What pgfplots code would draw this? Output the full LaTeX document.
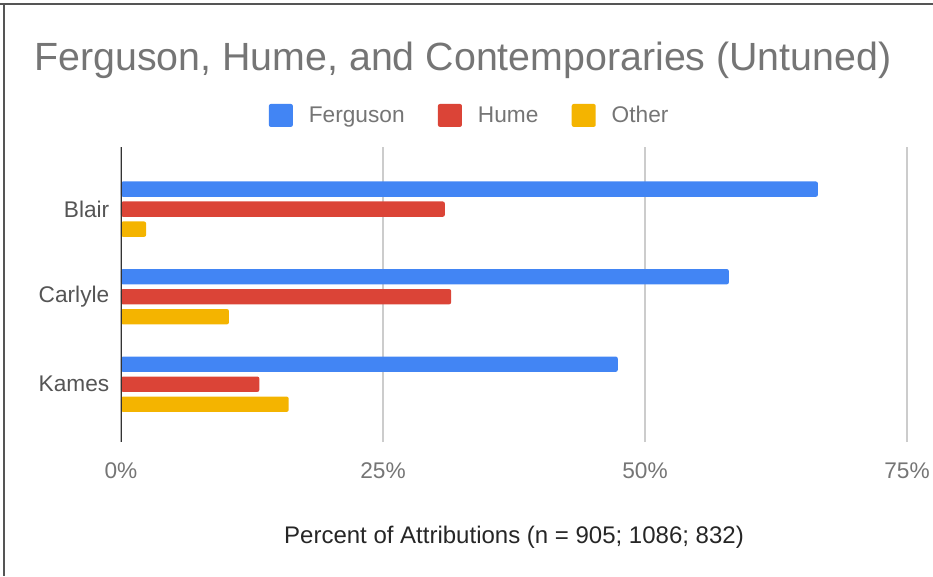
\documentclass[border=0pt]{standalone}
\usepackage{fontspec}
\setmainfont{Liberation Sans}
\usepackage{pgfplots}
\pgfplotsset{compat=1.18}
\definecolor{cBlue}{HTML}{4285F4}
\definecolor{cRed}{HTML}{DB4437}
\definecolor{cYellow}{HTML}{F4B400}
\definecolor{txtGray}{HTML}{757575}
\definecolor{catGray}{HTML}{555555}
\definecolor{gridGray}{HTML}{CCCCCC}
\begin{document}
\begin{tikzpicture}
\useasboundingbox (0,0) rectangle (699.75pt,432pt);
% frame edges of the original screenshot
\draw[line width=1.5pt,color=catGray] (0,429pt) -- (699.75pt,429pt);
\draw[line width=1.5pt,color=catGray] (3pt,429pt) -- (3pt,0);
\node[text=txtGray,font=\fontsize{29.5}{34}\selectfont] at (347.25pt,386.5pt) {Ferguson, Hume, and Contemporaries (Untuned)};
\node[text=black!85,font=\fontsize{18}{21}\selectfont] at (385.5pt,29pt) {Percent of Attributions (n = 905; 1086; 832)};
\begin{axis}[
    at={(90.75pt,100.5pt)}, anchor=south west,
    scale only axis, width=589.5pt, height=221.25pt,
    xbar, bar width=11.5pt,
    xmin=0, xmax=75, ymin=-0.66, ymax=2.71,
    xtick={0,25,50,75},
    xticklabel={\pgfmathprintnumber{\tick}\%},
    /pgf/number format/assume math mode=true,
    ytick={0,1,2}, yticklabels={Kames,Carlyle,Blair},
    axis line style={draw=none}, tick style={draw=none},
    xmajorgrids, grid style={gridGray,line width=1.2pt},
    xticklabel style={text=txtGray,font=\fontsize{17}{20}\selectfont,yshift=-12pt},
    yticklabel style={text=catGray,font=\fontsize{17}{20}\selectfont,xshift=-1pt},
    legend style={draw=none, at={(0.444,1.107)}, anchor=center, legend columns=-1,
        font=\fontsize{17}{20}\selectfont, text=txtGray,
        /tikz/every even column/.append style={column sep=23pt},
        /tikz/every odd column/.append style={column sep=10pt}},
    legend image code/.code={\fill[#1,rounded corners=1.5pt] (0pt,-8.6pt) rectangle (18pt,8.6pt);},
]
\addplot[fill=cBlue,draw=none,bar shift=15pt,rounded corners=1.5pt] coordinates {(66.5,2) (58.0,1) (47.4,0)};
\addplot[fill=cRed,draw=none,bar shift=0pt,rounded corners=1.5pt] coordinates {(30.9,2) (31.5,1) (13.2,0)};
\addplot[fill=cYellow,draw=none,bar shift=-15pt,rounded corners=1.5pt] coordinates {(2.4,2) (10.3,1) (16.0,0)};
\legend{Ferguson, Hume, Other}
\draw[black!80,line width=1.5pt] (axis cs:0,-0.66) -- (axis cs:0,2.71);
\end{axis}
\end{tikzpicture}
\end{document}
